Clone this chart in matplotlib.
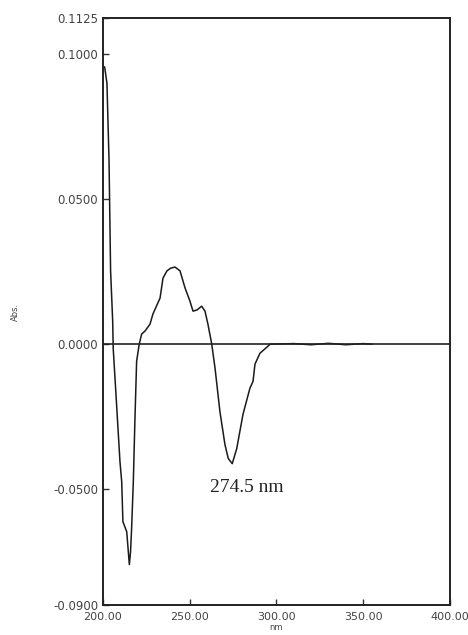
import numpy as np
import matplotlib.pyplot as plt

# derivative spectrum (nm, Abs.)
wavelength = [200.0, 201.0, 202.3, 203.5, 204.4, 205.6, 205.9, 207.5, 209.8, 210.8,
              211.5, 213.7, 214.4, 215.2, 215.9, 216.5, 217.5, 218.4, 219.4, 220.9,
              222.3, 224.2, 227.1, 228.8, 232.9, 234.6, 236.9, 239.0, 241.5, 244.4,
              247.3, 250.1, 251.9, 254.2, 256.9, 258.8, 260.5, 262.7, 264.6, 267.4,
              270.3, 272.2, 274.5, 277.1, 280.7, 283.0, 284.7, 286.5, 287.6, 290.5,
              295.1, 296.3, 310.0, 320.0, 330.0, 340.0, 350.0, 355.0]
absorb = [0.0960, 0.0955, 0.0900, 0.0633, 0.0253, 0.0080, -0.0014, -0.0173, -0.0405, -0.0474,
          -0.0612, -0.0647, -0.0699, -0.0760, -0.0716, -0.0637, -0.0474, -0.0266, -0.0059, 0.0000,
          0.0035, 0.0045, 0.0069, 0.0104, 0.0159, 0.0228, 0.0253, 0.0262, 0.0266, 0.0253,
          0.0194, 0.0149, 0.0114, 0.0118, 0.0131, 0.0114, 0.0069, 0.0000, -0.0083, -0.0232,
          -0.0346, -0.0394, -0.0412, -0.0360, -0.0242, -0.0190, -0.0152, -0.0128, -0.0069, -0.0031,
          -0.0007, 0.0000, 0.0002, -0.0002, 0.0003, -0.0002, 0.0002, 0.0000]

yticks = [0.1125, 0.1, 0.05, 0.0, -0.05, -0.09]
ylabels = ['0.1125', '0.1000', '0.0500', '0.0000', '-0.0500', '-0.0900']
xticks = [200, 250, 300, 350, 400]
xlabels = ['200.00', '250.00', '300.00', '350.00', '400.00']

fig = plt.figure(figsize=(4.68, 6.35), dpi=100)
ax = fig.add_axes([0.220, 0.047, 0.7415, 0.9247])

ax.plot(wavelength, absorb, color='#1a1a1a', lw=1.1)
ax.axhline(0, color='#222222', lw=1.2)

ax.set_xlim(200, 400)
ax.set_ylim(-0.09, 0.1125)
ax.set_yticks(yticks)
ax.set_yticklabels(ylabels)
ax.set_xticks(xticks)
ax.set_xticklabels(xlabels)
ax.tick_params(direction='in', length=4, width=1, colors='#333333',
               labelsize=8.5, labelcolor='#444444')
ax.tick_params(axis='x', pad=5, labelsize=8)

for s in ax.spines.values():
    s.set_linewidth(1.4)
    s.set_color('#222222')

ax.text(283.0, -0.0495, '274.5 nm', family='Liberation Serif', fontsize=14,
        ha='center', va='center', color='#222222')

ax.set_ylabel('Abs.', fontsize=6, color='#444444', labelpad=24)
ax.set_xlabel('nm', fontsize=6, color='#444444', labelpad=1)

fig.savefig('out.png', dpi=100)
